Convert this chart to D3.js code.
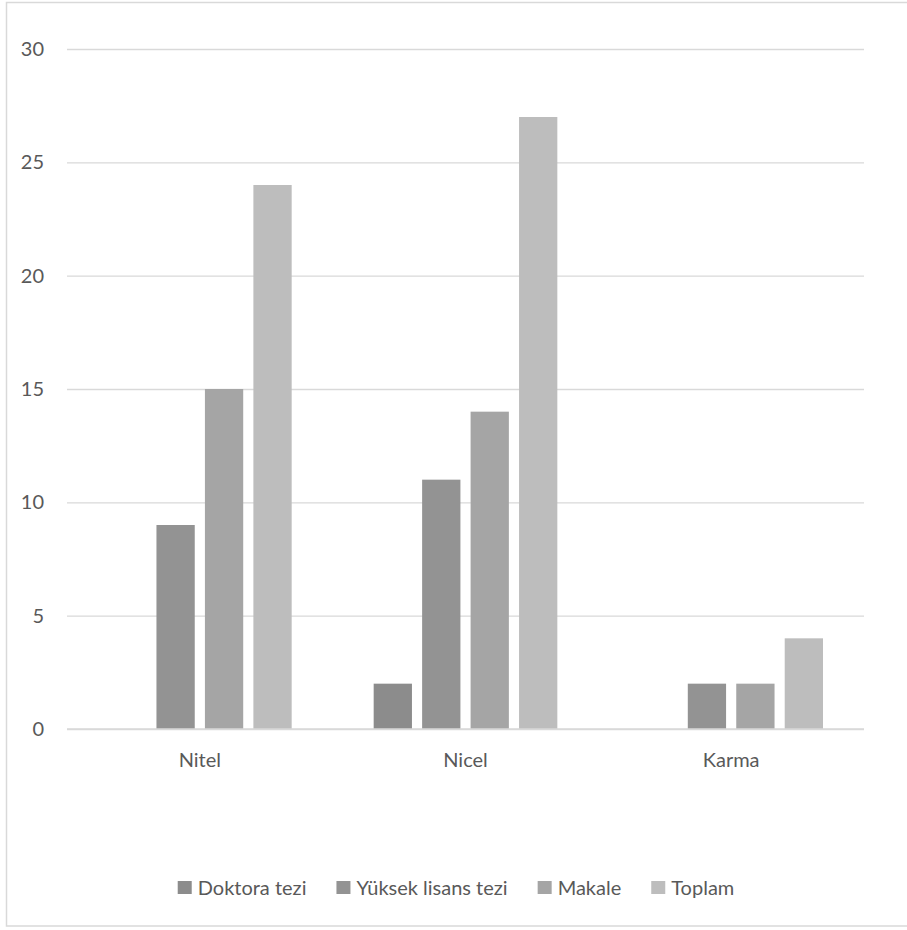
<!DOCTYPE html>
<html><head><meta charset="utf-8">
<script src="https://cdn.jsdelivr.net/npm/d3@7"></script>
<style>body{margin:0;background:#fff}svg{display:block}</style>
</head><body>
<script>
const categories = ["Nitel", "Nicel", "Karma"];
const seriesNames = ["Doktora tezi", "Yüksek lisans tezi", "Makale", "Toplam"];
const doktora = [0, 2, 0];
const yuksek = [9, 11, 2];
const makale = [15, 14, 2];
const toplam = [24, 27, 4];
const yTicks = [0, 5, 10, 15, 20, 25, 30];
const colors = ["#8c8c8c", "#939393", "#a5a5a5", "#bdbdbd"];

const values = [doktora, yuksek, makale, toplam];
const W = 907, H = 930;
const svg = d3.select("body").append("svg").attr("width", W).attr("height", H);
const font = "Lato, 'Open Sans', sans-serif";
const fs = 20;

svg.append("rect").attr("x", 6.5).attr("y", 2.5).attr("width", W).attr("height", 923.5)
  .attr("fill", "none").attr("stroke", "#d9d9d9").attr("stroke-width", 1.5);

const x0 = d3.scaleBand().domain(categories).range([67, 864]).paddingInner(0).paddingOuter(0);
const x1 = d3.scaleBand().domain(seriesNames).range([41, x0.bandwidth() - 41]).paddingInner(0.21);
const y = d3.scaleLinear().domain([0, 30]).range([729, 49]);

const yAxis = d3.axisLeft(y).tickValues(yTicks).tickSize(-(864 - 67)).tickPadding(23);
const gy = svg.append("g").attr("transform", "translate(67,0)").call(yAxis);
gy.select(".domain").remove();
gy.selectAll(".tick line").attr("stroke", "#d9d9d9").attr("stroke-width", 1.3);
gy.selectAll(".tick text").attr("fill", "#595959").attr("font-size", fs).attr("font-family", font);

const groups = svg.append("g").selectAll("g").data(categories).join("g")
  .attr("transform", d => `translate(${x0(d)},0)`);
groups.selectAll("rect").data((c, i) => seriesNames.map((s, j) => ({s, v: values[j][i], j})))
  .join("rect")
  .attr("x", d => x1(d.s)).attr("width", x1.bandwidth())
  .attr("y", d => y(d.v)).attr("height", d => y(0) - y(d.v))
  .attr("fill", d => colors[d.j]);

svg.append("line").attr("x1", 67).attr("x2", 864).attr("y1", y(0)).attr("y2", y(0))
  .attr("stroke", "#d9d9d9").attr("stroke-width", 1.5);

const xAxis = d3.axisBottom(x0).tickSize(0).tickPadding(24);
const gx = svg.append("g").attr("transform", `translate(0,${y(0)})`).call(xAxis);
gx.select(".domain").remove();
gx.selectAll(".tick text").attr("fill", "#595959").attr("font-size", fs).attr("font-family", font);

// legend
const leg = svg.append("g");
const items = leg.selectAll("g").data(seriesNames).join("g");
items.append("rect").attr("width", 14).attr("height", 13).attr("y", 881).attr("fill", (d, i) => colors[i]);
items.append("text").text(d => d).attr("x", 20).attr("y", 895).attr("fill", "#595959")
  .attr("font-size", fs).attr("font-family", font);
let widths = [];
items.each(function() { widths.push(20 + d3.select(this).select("text").node().getComputedTextLength()); });
const gap = 30;
const total = d3.sum(widths) + gap * (widths.length - 1);
let cx = 456 - total / 2;
items.attr("transform", (d, i) => { const t = `translate(${cx},0)`; cx += widths[i] + gap; return t; });
</script>
</body></html>
